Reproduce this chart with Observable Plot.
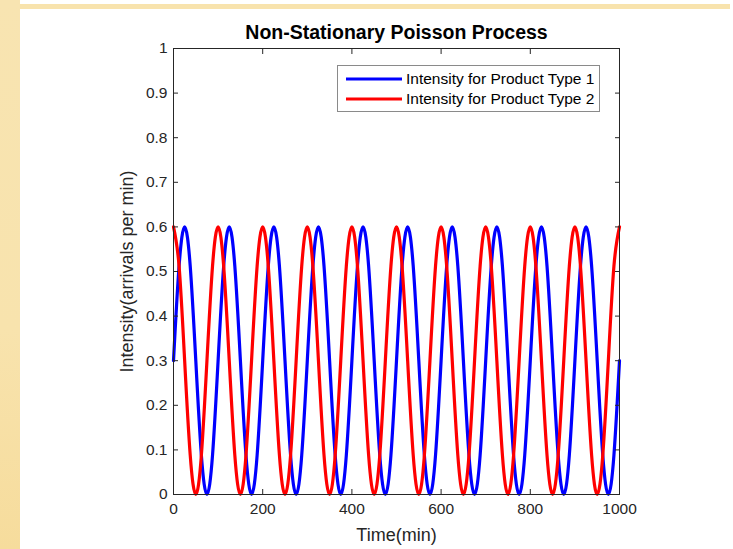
<!DOCTYPE html>
<html>
<head>
<meta charset="utf-8">
<script src="https://cdn.jsdelivr.net/npm/d3@7"></script>
<script src="https://cdn.jsdelivr.net/npm/@observablehq/plot@0.6"></script>
<style>
  html, body { margin: 0; padding: 0; background: #fff; }
  #wrap { position: relative; width: 733px; height: 549px; overflow: hidden; background: #fff;
          font-family: "Liberation Sans", Arial, sans-serif; }
  #leftband { position: absolute; left: 0; top: 0; width: 20px; height: 549px;
              background: linear-gradient(180deg, #f8e4b1 0%, #f8e3ad 60%, #f6dc9c 100%); }
  #topband { position: absolute; left: 20px; top: 4px; width: 710px; height: 5px; background: #f8e3ad; }
  #chart { position: absolute; left: 0; top: 0; }
  #legend { position: absolute; left: 0; top: 0; }
</style>
</head>
<body>
<div id="wrap">
  <div id="leftband"></div>
  <div id="topband"></div>
  <div id="chart"></div>
  <div id="legend"></div>
</div>
<script>
// Time (min) sample points
const time = [0,12.5,25,37.5,50,62.5,75,87.5,100,112.5,125,137.5,150,162.5,175,187.5,200,212.5,225,237.5,250,262.5,275,287.5,300,312.5,325,337.5,350,362.5,375,387.5,400,412.5,425,437.5,450,462.5,475,487.5,500,512.5,525,537.5,550,562.5,575,587.5,600,612.5,625,637.5,650,662.5,675,687.5,700,712.5,725,737.5,750,762.5,775,787.5,800,812.5,825,837.5,850,862.5,875,887.5,900,912.5,925,937.5,950,962.5,975,987.5,1000];

// Intensity for Product Type 1 (blue)
const intensity1 = [
  0.3,0.512,0.6,0.512,0.3,0.088,0,0.088,
  0.3,0.512,0.6,0.512,0.3,0.088,0,0.088,
  0.3,0.512,0.6,0.512,0.3,0.088,0,0.088,
  0.3,0.512,0.6,0.512,0.3,0.088,0,0.088,
  0.3,0.512,0.6,0.512,0.3,0.088,0,0.088,
  0.3,0.512,0.6,0.512,0.3,0.088,0,0.088,
  0.3,0.512,0.6,0.512,0.3,0.088,0,0.088,
  0.3,0.512,0.6,0.512,0.3,0.088,0,0.088,
  0.3,0.512,0.6,0.512,0.3,0.088,0,0.088,
  0.3,0.512,0.6,0.512,0.3,0.088,0,0.088,
  0.3];

// Intensity for Product Type 2 (red)
const intensity2 = [
  0.6,0.512,0.3,0.088,0,0.088,0.3,0.512,
  0.6,0.512,0.3,0.088,0,0.088,0.3,0.512,
  0.6,0.512,0.3,0.088,0,0.088,0.3,0.512,
  0.6,0.512,0.3,0.088,0,0.088,0.3,0.512,
  0.6,0.512,0.3,0.088,0,0.088,0.3,0.512,
  0.6,0.512,0.3,0.088,0,0.088,0.3,0.512,
  0.6,0.512,0.3,0.088,0,0.088,0.3,0.512,
  0.6,0.512,0.3,0.088,0,0.088,0.3,0.512,
  0.6,0.512,0.3,0.088,0,0.088,0.3,0.512,
  0.6,0.512,0.3,0.088,0,0.088,0.3,0.512,
  0.6];

const xTicks = [0, 200, 400, 600, 800, 1000];
const yTicks = [0, 0.1, 0.2, 0.3, 0.4, 0.5, 0.6, 0.7, 0.8, 0.9, 1];
const seriesNames = ["Intensity for Product Type 1", "Intensity for Product Type 2"];
const seriesColors = ["#0000ff", "#ff0000"];
const titleText = "Non-Stationary Poisson Process";
const xLabel = "Time(min)";
const yLabel = "Intensity(arrivals per min)";

const type1 = time.map((t, i) => ({t, v: intensity1[i]}));
const type2 = time.map((t, i) => ({t, v: intensity2[i]}));

const axisColor = "#262626";
const tickFont = 15.5;

const chart = Plot.plot({
  width: 733,
  height: 549,
  marginLeft: 173,
  marginRight: 114,
  marginTop: 48,
  marginBottom: 55,
  x: {domain: [0, 1000]},
  y: {domain: [0, 1]},
  style: {background: "transparent", fontFamily: "'Liberation Sans', Arial, sans-serif", color: axisColor},
  marks: [
    Plot.line(type1, {x: "t", y: "v", stroke: seriesColors[0], strokeWidth: 3.2, curve: "natural"}),
    Plot.line(type2, {x: "t", y: "v", stroke: seriesColors[1], strokeWidth: 3.2, curve: "natural"}),
    Plot.frame({stroke: axisColor, strokeWidth: 1}),
    Plot.axisX({anchor: "bottom", ticks: xTicks, tickSize: -5, tickPadding: 13, fontSize: tickFont,
                tickFormat: d => String(d), label: null, color: axisColor}),
    Plot.axisX({anchor: "top", ticks: xTicks, tickSize: -5, tickFormat: () => "", label: null, color: axisColor}),
    Plot.axisY({anchor: "left", ticks: yTicks, tickSize: -5, tickPadding: 11, fontSize: tickFont,
                tickFormat: d => String(d), label: null, color: axisColor}),
    Plot.axisY({anchor: "right", ticks: yTicks, tickSize: -5, tickFormat: () => "", label: null, color: axisColor}),
    Plot.text([titleText], {frameAnchor: "top", dy: -10, lineAnchor: "bottom", textAnchor: "middle",
                            fontSize: 19.5, fontWeight: "bold", fill: "#000"}),
    Plot.text([xLabel], {frameAnchor: "bottom", dy: 41, lineAnchor: "middle", textAnchor: "middle",
                         fontSize: 18, fill: axisColor}),
    Plot.text([yLabel], {frameAnchor: "left", dx: -46, rotate: -90, lineAnchor: "middle", textAnchor: "middle",
                         fontSize: 18, fill: axisColor})
  ]
});
document.getElementById("chart").appendChild(chart);

// Legend (MATLAB-style box)
const lg = d3.select("#legend").append("svg").attr("width", 733).attr("height", 549)
  .style("font-family", "'Liberation Sans', Arial, sans-serif");
lg.append("rect").attr("x", 337.5).attr("y", 65.5).attr("width", 262).attr("height", 46)
  .attr("fill", "#fff").attr("stroke", "#8a8a8a").attr("stroke-width", 1);
seriesNames.forEach((name, i) => {
  const y = 79 + i * 20;
  lg.append("line").attr("x1", 346).attr("x2", 402).attr("y1", y).attr("y2", y)
    .attr("stroke", seriesColors[i]).attr("stroke-width", 3.2);
  lg.append("text").attr("x", 406).attr("y", y).attr("dy", "0.35em")
    .attr("font-size", 15.5).attr("fill", "#000").text(name);
});
</script>
</body>
</html>
